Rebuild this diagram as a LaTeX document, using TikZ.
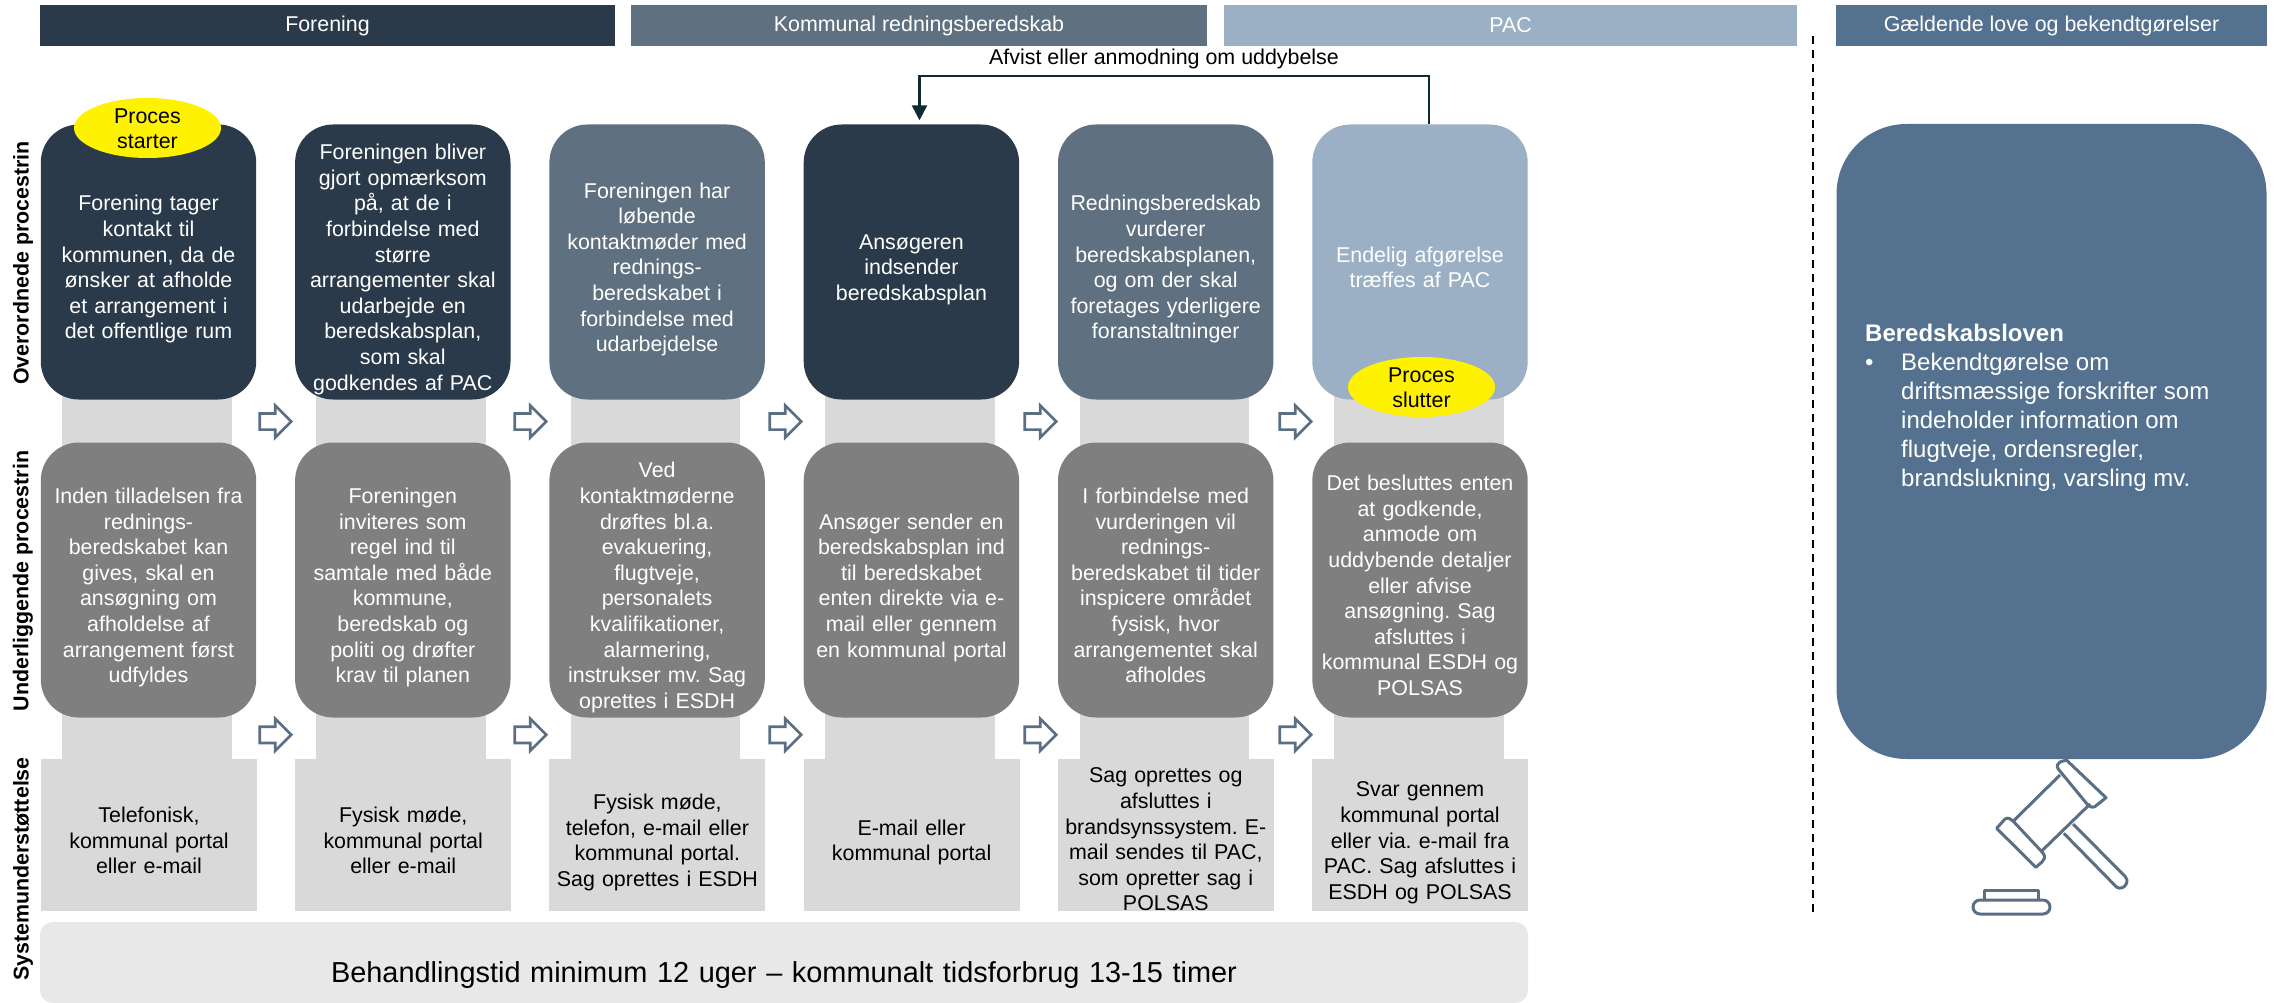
\documentclass[tikz,border=0pt]{standalone}
\usepackage{fontspec}
\setmainfont{Liberation Sans}
\frenchspacing
\usetikzlibrary{shapes.geometric,shapes.arrows,arrows.meta}
\definecolor{cdark}{HTML}{2B3A4A}
\definecolor{cmid}{HTML}{5F7080}
\definecolor{clight}{HTML}{9BB0C5}
\definecolor{cgrey}{HTML}{7F7F7F}
\definecolor{cband}{HTML}{D9D9D9}
\definecolor{cbar}{HTML}{E8E8E8}
\definecolor{cbig}{HTML}{547290}
\definecolor{cline}{HTML}{0F2A33}
\definecolor{carrow}{HTML}{5A6F84}
\tikzset{
  txt/.style={font=\fontsize{21.4}{25.6}\selectfont\frenchspacing},
  struts/.style n args={2}{execute at begin node={\rule{0pt}{#1}},execute at end node={\rule[-#2]{0pt}{#2}}},
  header/.style={rectangle,txt,text=white,minimum height=41pt,inner sep=0pt},
  procbox/.style={rectangle,rounded corners=38pt,txt,text=white,minimum width=215.4pt,minimum height=275pt,inner sep=0pt,align=center,text width=215pt,struts={32pt}{6pt}},
  sysbase/.style={rectangle,fill=cband,txt,text=black,minimum width=216pt,minimum height=152pt,inner sep=0pt,align=center,text width=215pt},
  sysbox/.style={sysbase,struts={32pt}{6pt}},
  systall/.style={sysbase,struts={24pt}{0pt}},
  startstop/.style={ellipse,fill=yellow,txt,text=black,minimum width=147pt,minimum height=60pt,inner sep=0pt,align=center,text width=80pt,text height=0pt,text depth=9pt,font=\fontsize{21.4}{25}\selectfont},
  blockarrow/.style={single arrow,anchor=tail,draw=carrow,fill=white,line width=2.7pt,text width=0pt,text height=13.5pt,text depth=0pt,minimum height=31.5pt,single arrow head extend=8pt,inner sep=0pt},
  sidelabel/.style={rotate=90,txt,font=\fontsize{21.4}{25.6}\selectfont\bfseries,text=black,inner sep=0pt},
  gavel/.style={draw=carrow,line width=3pt,line join=round},
}
\begin{document}
\begin{tikzpicture}[x=1pt,y=-1pt]
\useasboundingbox (0,0) rectangle (2285,1003);
% headers
\node[header,fill=cdark,minimum width=575pt] (hA) at (327.5,25.5) {Forening};
\node[header,fill=cmid,minimum width=576pt] (hB) at (919,25.5) {Kommunal redningsberedskab};
\node[header,fill=clight,minimum width=573pt] (hC) at (1510.5,25.5) {PAC};
\node[header,fill=cbig,minimum width=431pt] (hD) at (2051.5,25.5) {Gældende love og bekendtgørelser};
% grey bands behind boxes
\foreach \i in {0,...,5}{
  \fill[cband] (62+254.4*\i,395) rectangle (231.5+254.4*\i,765);
}
% row 1
\node[procbox,fill=cdark] (t1) at (148.5,262) {Forening tager\\kontakt til\\kommunen, da de\\ønsker at afholde\\et arrangement i\\det offentlige rum};
\node[procbox,fill=cdark] (t2) at (402.8,262) {Foreningen bliver\\gjort opmærksom\\på, at de i\\forbindelse med\\større\\arrangementer skal\\udarbejde en\\beredskabsplan,\\som skal\\godkendes af PAC};
\node[procbox,fill=cmid] (t3) at (657.1,262) {Foreningen har\\løbende\\kontaktmøder med\\rednings-\\beredskabet i\\forbindelse med\\udarbejdelse};
\node[procbox,fill=cdark] (t4) at (911.4,262) {Ansøgeren\\indsender\\beredskabsplan};
\node[procbox,fill=cmid] (t5) at (1165.7,262) {Redningsberedskab\\vurderer\\beredskabsplanen,\\og om der skal\\foretages yderligere\\foranstaltninger};
\node[procbox,fill=clight] (t6) at (1420,262) {Endelig afgørelse\\træffes af PAC};
% row 2
\node[procbox,fill=cgrey] (m1) at (148.5,580) {Inden tilladelsen fra\\rednings-\\beredskabet kan\\gives, skal en\\ansøgning om\\afholdelse af\\arrangement først\\udfyldes};
\node[procbox,fill=cgrey] (m2) at (402.8,580) {Foreningen\\inviteres som\\regel ind til\\samtale med både\\kommune,\\beredskab og\\politi og drøfter\\krav til planen};
\node[procbox,fill=cgrey] (m3) at (657.1,580) {Ved\\kontaktmøderne\\drøftes bl.a.\\evakuering,\\flugtveje,\\personalets\\kvalifikationer,\\alarmering,\\instrukser mv. Sag\\oprettes i ESDH};
\node[procbox,fill=cgrey] (m4) at (911.4,580) {Ansøger sender en\\beredskabsplan ind\\til beredskabet\\enten direkte via e-\\mail eller gennem\\en kommunal portal};
\node[procbox,fill=cgrey] (m5) at (1165.7,580) {I forbindelse med\\vurderingen vil\\rednings-\\beredskabet til tider\\inspicere området\\fysisk, hvor\\arrangementet skal\\afholdes};
\node[procbox,fill=cgrey] (m6) at (1420,580) {Det besluttes enten\\at godkende,\\anmode om\\uddybende detaljer\\eller afvise\\ansøgning. Sag\\afsluttes i\\kommunal ESDH og\\POLSAS};
% row 3
\node[sysbox] (b1) at (149,835) {Telefonisk,\\kommunal portal\\eller e-mail};
\node[sysbox] (b2) at (403.2,835) {Fysisk møde,\\kommunal portal\\eller e-mail};
\node[sysbox] (b3) at (657.4,835) {Fysisk møde,\\telefon, e-mail eller\\kommunal portal.\\Sag oprettes i ESDH};
\node[sysbox] (b4) at (911.6,835) {E-mail eller\\kommunal portal};
\node[systall] (b5) at (1165.8,835) {Sag oprettes og\\afsluttes i\\brandsynssystem. E-\\mail sendes til PAC,\\som opretter sag i\\POLSAS};
\node[sysbox] (b6) at (1420,835) {Svar gennem\\kommunal portal\\eller via. e-mail fra\\PAC. Sag afsluttes i\\ESDH og POLSAS};
% block arrows
\foreach \i in {0,...,4}{
  \node[blockarrow] (aa\i) at (258.4+255*\i,421.5) {};
  \node[blockarrow] (ab\i) at (258.4+255*\i,734.8) {};
}
% start / stop
\node[startstop] (start) at (147.5,128) {Proces\\starter};
\node[startstop] (stop) at (1421.5,387) {Proces\\slutter};
% rejection loop
\coordinate (la) at (1429,76);
\coordinate (lb) at (919.5,76);
\draw[cline,line width=2.5pt,-{Triangle[length=15pt,width=15pt]},shorten >=4pt] (t6.north -| la) -- (la) -- (lb) -- (t4.north -| lb);
\node[txt,text=black,inner sep=0pt] (rej) at (1164,59) {Afvist eller anmodning om uddybelse};
% side labels
\node[sidelabel] (s1) at (23,263) {Overordnede procestrin};
\node[sidelabel] (s2) at (23,581) {Underliggende procestrin};
\node[sidelabel] (s3) at (23,869) {Systemunderstøttelse};
% bottom bar
\node[rectangle,rounded corners=13pt,fill=cbar,minimum width=1488pt,minimum height=81pt,inner sep=0pt,text width=1480pt,align=center,font=\fontsize{28.9}{34}\selectfont\frenchspacing,struts={47pt}{7pt}] (bar) at (784,962.5) {Behandlingstid minimum 12 uger – kommunalt tidsforbrug 13-15 timer};
% divider
\coordinate (d1) at (1812.5,36);
\coordinate (d2) at (1812.5,912);
\draw[black,line width=2pt,dash pattern=on 8pt off 6pt] (d1) -- (d2);
% right panel
\node[rectangle,rounded corners=70pt,fill=cbig,minimum width=430pt,minimum height=635pt,inner sep=0pt] (big) at (2051.5,441.5) {};
\node[anchor=north west,inner sep=0pt,text=white,align=left,font=\fontsize{24}{29}\selectfont\frenchspacing] (bigtxt) at (1865,324) {\textbf{Beredskabsloven}\\\makebox[36pt][l]{•}Bekendtgørelse om\\\hspace*{36pt}driftsmæssige forskrifter som\\\hspace*{36pt}indeholder information om\\\hspace*{36pt}flugtveje, ordensregler,\\\hspace*{36pt}brandslukning, varsling mv.};
% gavel
\draw[gavel] (2066.4,760) -- (2106,797.7) -- (2094.8,806.7) .. controls (2091,808) and (2089,806) .. (2087,804) -- (2058.2,769) .. controls (2056,766) and (2058,763) .. (2060,762) -- cycle;
\draw[gavel] (1996.6,828.3) -- (2005,819) .. controls (2008,817) and (2011,819) .. (2013,821) -- (2043,853) .. controls (2046,857) and (2044,860) .. (2042,862) -- (2035.8,867.3) -- cycle;
\draw[gavel] (2060,775) -- (2012.7,821.7);
\draw[gavel] (2090,804) -- (2042,850.7);
\draw[gavel] (2073,824) -- (2125.4,876.7) .. controls (2131,884) and (2120,893) .. (2114.5,885) -- (2063.8,833.3);
\draw[gavel] (1984.3,900) -- (1984.3,890) -- (2038.8,890) -- (2038.8,900);
\draw[gavel,rounded corners=7pt] (1973,900) rectangle (2050,914);
\end{tikzpicture}
\end{document}
